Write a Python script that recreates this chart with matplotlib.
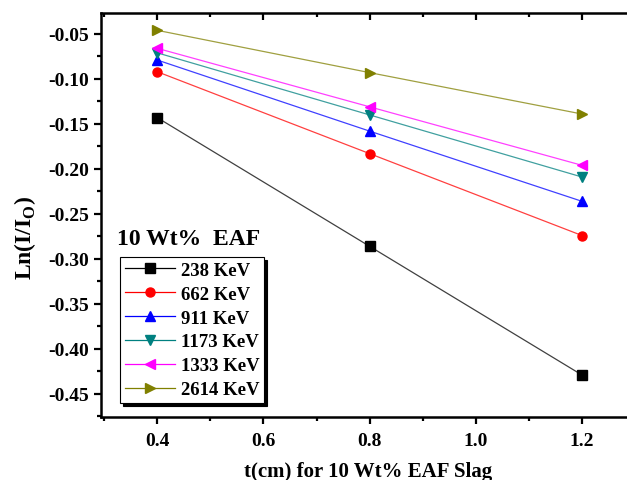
import matplotlib.pyplot as plt
import numpy as np
from matplotlib.ticker import MultipleLocator

plt.rcParams['font.family'] = ['Liberation Serif', 'DejaVu Serif']
plt.rcParams['font.weight'] = 'bold'

# thickness in cm
thickness = [0.4, 0.8, 1.2]

# ln(I/I0) per gamma energy
ln_238 = [-0.143, -0.286, -0.429]
ln_662 = [-0.092, -0.183, -0.274]
ln_911 = [-0.079, -0.158, -0.236]
ln_1173 = [-0.071, -0.140, -0.209]
ln_1333 = [-0.066, -0.131, -0.196]
ln_2614 = [-0.046, -0.093, -0.139]

energies = ['238 KeV', '662 KeV', '911 KeV', '1173 KeV', '1333 KeV', '2614 KeV']
series = [ln_238, ln_662, ln_911, ln_1173, ln_1333, ln_2614]
colors = ['black', 'red', 'blue', '#008080', 'magenta', '#808000']
markers = ['s', 'o', '^', 'v', '<', '>']

fig = plt.figure(figsize=(6.27, 4.81), dpi=100)
# right edge of the frame runs past the picture, as in the source
ax = fig.add_axes([0.161, 0.131, 0.852, 0.840])

for vals, lab, c, m in zip(series, energies, colors, markers):
    ax.plot(thickness, vals, color=c, lw=0.9, alpha=0.75, label=lab)
    ax.plot(thickness, vals, ls='none', marker=m, ms=6.5, color=c, mec=c)

# proxy handles so the legend shows line + marker together
handles = [plt.Line2D([], [], color=c, lw=0.9, marker=m, ms=6.5, mec=c)
           for c, m in zip(colors, markers)]
leg = ax.legend(handles, energies, loc='upper left', bbox_to_anchor=(0.036, 0.396),
                borderaxespad=0, fancybox=False, shadow={'color': 'black', 'alpha': 1},
                handlelength=2.7, labelspacing=0.36, borderpad=0.25, handletextpad=0.3,
                prop={'size': 13.5, 'weight': 'bold'})
leg.get_frame().set_edgecolor('black')
leg.get_frame().set_linewidth(0.8)

ax.text(0.03, 0.428, '10 Wt%  EAF', transform=ax.transAxes, fontsize=17,
        fontweight='bold', ha='left', va='baseline')

ax.set_xlim(0.294, 1.3)
ax.set_ylim(-0.4756, -0.0267)
ax.xaxis.set_minor_locator(MultipleLocator(0.1))
ax.yaxis.set_minor_locator(MultipleLocator(0.025))
ax.set_xticks([0.4, 0.6, 0.8, 1.0, 1.2])
ax.set_xticklabels(['0.4', '0.6', '0.8', '1.0', '1.2'])
ax.set_yticks(np.arange(-0.45, -0.04, 0.05))
ax.set_yticklabels(['%.2f' % v for v in np.arange(-0.45, -0.04, 0.05)])

ax.tick_params(which='both', direction='out', width=1.6, labelsize=14)
ax.tick_params(which='major', length=5)
ax.tick_params(which='minor', length=3)
ax.tick_params(which='both', top=True, right=True)
ax.tick_params(axis='x', pad=6)

for s in ax.spines.values():
    s.set_linewidth(1.8)

ax.set_xlabel('t(cm) for 10 Wt% EAF Slag', fontsize=15, fontweight='bold')
ax.set_ylabel('Ln(I/I$_\\mathregular{O}$)', fontsize=17, fontweight='bold')
ax.xaxis.set_label_coords(0.5, -0.11)
ax.yaxis.set_label_coords(-0.117, 0.446)

# top/right ticks point inward in the source
for t in ax.xaxis.get_major_ticks() + ax.xaxis.get_minor_ticks():
    t.tick2line.set_marker(3)
for t in ax.yaxis.get_major_ticks() + ax.yaxis.get_minor_ticks():
    t.tick2line.set_marker(0)

fig.savefig('out.png', dpi=100)
